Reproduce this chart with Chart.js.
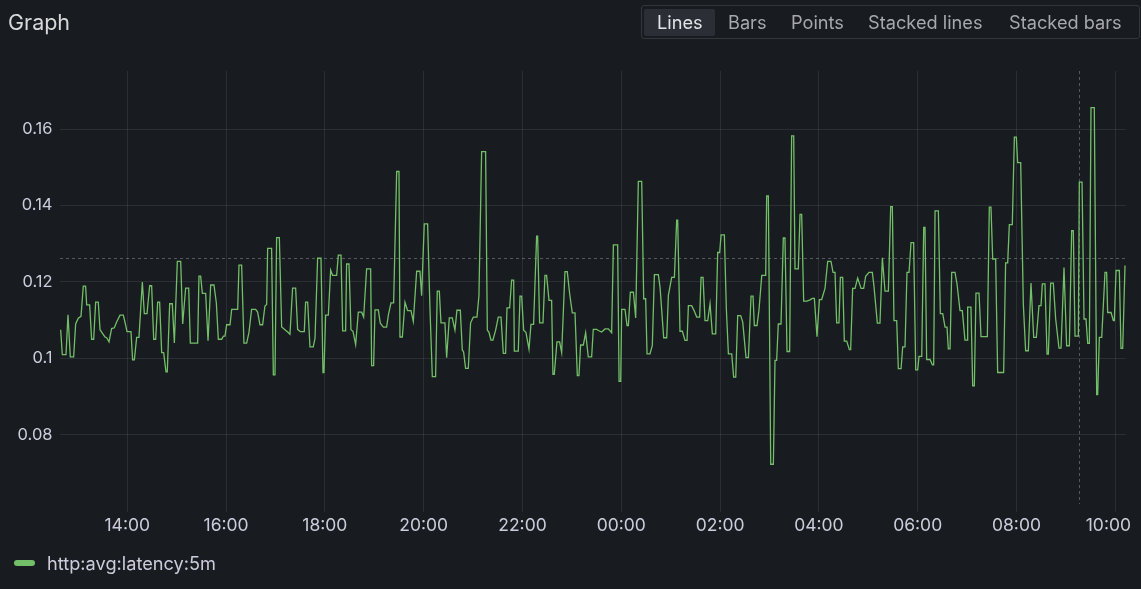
<!DOCTYPE html>
<html><head><meta charset="utf-8">
<script src="https://cdn.jsdelivr.net/npm/chart.js@4.4.0/dist/chart.umd.min.js"></script>
<style>
html,body{margin:0;padding:0;background:#181b1f;width:1141px;height:589px;overflow:hidden;font-family:Inter,"Noto Sans",sans-serif;}
#wrap{position:relative;width:1141px;height:589px;}
#c{position:absolute;left:0;top:0;}
.title{position:absolute;left:8px;top:9px;font-size:21.5px;line-height:26px;color:#d8d9da;}
.group{position:absolute;left:640.5px;top:5px;width:499px;height:34px;border:1px solid #33363c;border-radius:3px;box-sizing:border-box;}
.active{position:absolute;left:644px;top:9px;width:71px;height:27px;background:#2b2e34;border-radius:2px;}
.btn{position:absolute;top:9px;height:27px;line-height:27px;font-size:18.2px;color:#a7a8b0;white-space:nowrap;}
.btn.on{color:#e3e4e8;}
.lg-bar{position:absolute;left:14px;top:560px;width:21px;height:6px;border-radius:3px;background:#73bf69;}
.lg-txt{position:absolute;left:47px;top:551px;height:24px;line-height:24px;font-size:18.2px;color:#ccccdc;white-space:nowrap;}
</style></head>
<body><div id="wrap">
<canvas id="c" width="1141" height="589"></canvas>
<div class="title">Graph</div>
<div class="group"></div>
<div class="active"></div>
<div id="btns"></div>
<div class="lg-bar"></div>
<div class="lg-txt" id="lg"></div>
</div>
<script>
// ---- data ----
const seriesName = 'http:avg:latency:5m';
const viewButtons = ['Lines','Bars','Points','Stacked lines','Stacked bars'];
// minutes since 00:00 of the first day
const times = [
759.1,761.1,765.6,768.0,770.8,774.9,777.3,780.5,783.8,786.6,789.4,790.7,794.3,796.7,799.2,801.6,804.8,806.9,810.1,812.9,815.0,817.8,821.0,824.3,827.1,831.2,835.2,837.2,839.7,844.5,846.5,848.6,851.4,854.2,858.3,860.7,864.0,867.2,869.6,872.1,874.5,876.9,879.3,881.8,884.2,887.0,888.6,891.5,894.7,897.2,900.8,904.9,907.3,910.9,914.6,916.6,925.5,927.1,929.1,931.2,935.2,938.1,941.3,945.3,948.2,950.6,954.7,956.7,958.7,960.7,964.8,966.8,974.1,
975.7,978.9,981.7,985.0,987.8,991.0,995.9,998.3,1001.2,1004.4,1007.2,1009.3,1010.5,1015.3,1017.4,1019.4,1021.4,1024.7,1027.5,1031.5,1034.8,1037.6,1040.8,1044.5,1046.9,1050.2,1055.0,1056.6,1059.1,1061.9,1065.9,1068.0,1071.2,1075.3,1077.7,1078.9,1080.9,1084.2,1087.0,1089.4,1094.3,1096.3,1099.6,1101.6,1105.2,1106.4,1109.3,1111.7,1114.1,1117.4,1120.6,1124.7,1127.1,1130.7,1135.6,1136.8,1139.2,1140.9,1144.9,1147.3,1151.0,1155.0,1157.1,1160.3,1163.5,1167.2,1170.0,1171.2,1174.1,1177.3,1180.5,1184.6,1187.4,1191.5,1195.5,
1197.5,1200.7,1204.8,1207.6,1210.5,1214.5,1216.5,1219.0,1221.0,1225.8,1227.9,1231.1,1234.7,1238.0,1240.4,1244.5,1246.9,1248.5,1250.9,1254.2,1257.0,1260.3,1264.7,1267.1,1270.4,1275.2,1277.3,1279.3,1281.7,1284.1,1287.4,1290.6,1293.9,1296.7,1299.5,1301.2,1304.4,1306.8,1309.3,1310.1,1314.9,1317.0,1319.0,1321.4,1324.2,1327.9,1330.3,1333.5,1337.2,1338.4,1340.8,1344.9,1347.3,1349.3,1352.2,1355.4,1357.0,1358.6,1361.9,1365.1,1367.6,1371.6,1374.4,1377.3,1380.5,1383.8,1386.6,1388.6,1390.6,1393.9,1396.7,1399.9,1404.0,1406.0,1410.1,
1412.1,1416.2,1420.2,1424.3,1428.3,1430.4,1435.6,1437.3,1439.3,1440.5,1444.5,1447.0,1448.6,1451.0,1454.7,1457.5,1460.7,1464.8,1467.2,1469.6,1471.3,1474.9,1477.7,1480.2,1485.0,1487.1,1491.5,1495.2,1497.2,1501.2,1504.5,1507.3,1508.5,1511.3,1514.2,1517.4,1519.9,1521.5,1525.5,1528.4,1531.6,1535.2,1536.9,1539.3,1541.7,1545.0,1547.8,1550.6,1554.7,1557.1,1559.5,1561.2,1565.2,1567.6,1570.1,1574.1,1576.5,1579.0,1581.4,1585.0,1587.5,1591.5,1594.4,1597.6,1600.0,1601.6,1604.9,1607.3,1610.6,1615.4,1616.6,1618.6,1621.5,1624.7,1626.7,1628.7,1630.7,1634.0,
1636.8,1638.8,1641.3,1644.5,1646.9,1649.4,1651.0,1655.0,1657.1,1659.1,1661.5,1665.6,1669.2,1672.0,1674.5,1677.7,1680.6,1683.4,1687.4,1690.7,1694.7,1697.2,1699.6,1701.6,1704.4,1706.1,1708.9,1710.9,1713.8,1717.0,1718.6,1721.0,1723.9,1727.1,1731.2,1734.4,1736.8,1740.9,1744.9,1746.9,1751.0,1754.2,1757.1,1760.3,1764.4,1767.2,1769.2,1771.2,1774.5,1776.5,1779.8,1781.8,1784.6,1787.0,1789.5,1791.9,1795.1,1797.6,1800.0,1801.6,1804.9,1807.3,1808.9,1810.9,1815.0,1817.8,1819.4,1821.1,1825.1,1827.5,1830.4,1833.2,1835.6,1837.2,1839.3,1841.3,1845.3,1847.8,
1851.4,1854.2,1857.4,1859.9,1860.7,1864.7,1866.8,1868.8,1870.8,1874.5,1876.9,1884.6,1887.0,1889.0,1891.1,1894.7,1897.1,1904.4,1906.8,1909.3,1911.3,1914.9,1917.4,1919.8,1921.4,1925.1,1928.3,1931.1,1934.4,1937.6,1940.9,1944.1,1947.3,1949.8,1951.4,1954.6,1957.1,1958.7,1961.5,1964.7,1967.6,1971.6,1974.1,1977.7,1980.9,1984.2,1987.0,1989.0,1991.1,1995.1,1996.3,1999.6,2002.0,2004.4,2006.5,2008.5,2010.5,2014.5,2017.4,2018.6,2020.6,2023.5,2027.5,2029.5,2030.7,2034.8,2037.6,2038.8,2040.9,2044.9,2046.9,2049.0,2051.8
];
const values = [
0.1075,0.101,0.101,0.1114,0.1004,0.1004,0.109,0.1105,0.111,0.1189,0.1189,0.114,0.114,0.105,0.105,0.1147,0.1147,0.1075,0.1065,0.1056,0.1054,0.1043,0.1078,0.108,0.1095,0.1113,0.1113,0.1095,0.107,0.107,0.0996,0.0996,0.1055,0.1055,0.120,0.1117,0.1117,0.119,0.119,0.105,0.105,0.1147,0.1147,0.1015,0.1015,0.0965,0.0965,0.1143,0.1143,0.104,0.1254,0.1254,0.109,0.1184,0.1184,0.104,0.104,0.1215,0.1215,0.117,0.117,0.1046,0.1192,0.1192,0.1145,0.105,0.105,0.1058,0.1058,0.1088,0.1088,0.1128,0.1128,
0.1244,0.1244,0.104,0.104,0.1068,0.1128,0.1128,0.1121,0.1088,0.1088,0.1137,0.1141,0.1288,0.1288,0.0957,0.0957,0.1316,0.1316,0.1082,0.1075,0.1069,0.1063,0.1184,0.1184,0.1076,0.107,0.107,0.1147,0.1147,0.103,0.103,0.1052,0.1262,0.1262,0.0963,0.0963,0.1113,0.1113,0.1231,0.1217,0.1217,0.127,0.127,0.1072,0.1072,0.1247,0.1247,0.1075,0.1071,0.1036,0.1121,0.1121,0.1108,0.1234,0.1234,0.0981,0.0981,0.1127,0.1127,0.1092,0.1082,0.1082,0.1113,0.1145,0.1145,0.1489,0.1489,0.1056,0.1056,0.1147,0.1125,0.1125,0.1097,0.1228,0.1228,
0.1164,0.1352,0.1352,0.1134,0.0952,0.0952,0.1176,0.1176,0.1093,0.1093,0.1002,0.1106,0.1106,0.1074,0.1126,0.1126,0.1022,0.1017,0.0974,0.0974,0.1093,0.1108,0.1108,0.1163,0.1541,0.1541,0.1074,0.1068,0.1048,0.1048,0.1074,0.1108,0.1108,0.1013,0.1013,0.1132,0.1132,0.1205,0.1205,0.1019,0.1019,0.1163,0.1163,0.1074,0.1068,0.1024,0.1089,0.1089,0.132,0.132,0.1093,0.1093,0.1217,0.1217,0.1152,0.1152,0.0958,0.0958,0.1043,0.1043,0.1015,0.1227,0.1227,0.1169,0.1119,0.1119,0.0955,0.0955,0.1035,0.1035,0.1067,0.1004,0.1004,0.1076,0.1076,
0.1073,0.1069,0.1077,0.1077,0.1067,0.1297,0.1297,0.094,0.094,0.1128,0.1128,0.1086,0.1086,0.1173,0.1173,0.1106,0.1463,0.1463,0.1156,0.1156,0.1012,0.1012,0.1034,0.1219,0.1219,0.1186,0.1054,0.1054,0.1165,0.1212,0.1212,0.1362,0.1362,0.1071,0.1071,0.1047,0.1047,0.1138,0.1138,0.1125,0.1108,0.1108,0.1212,0.1212,0.1099,0.1099,0.1143,0.1064,0.1064,0.1277,0.1277,0.1323,0.1323,0.113,0.1012,0.1012,0.0951,0.0951,0.1112,0.1112,0.1095,0.1002,0.1002,0.1163,0.1163,0.1086,0.1086,0.1128,0.1217,0.1217,0.1425,0.1425,0.0723,0.0723,0.0995,0.0995,0.109,0.109,
0.1315,0.1315,0.1018,0.1018,0.1582,0.1582,0.1234,0.1234,0.1377,0.1377,0.115,0.115,0.1153,0.1157,0.1157,0.1057,0.1154,0.1154,0.1183,0.1254,0.1254,0.1225,0.1225,0.1093,0.1093,0.1212,0.1212,0.1045,0.1045,0.1023,0.1023,0.1183,0.1183,0.121,0.1183,0.1183,0.1215,0.1225,0.1225,0.1189,0.1092,0.1092,0.1263,0.1176,0.1176,0.1397,0.1397,0.1099,0.1099,0.0973,0.0973,0.103,0.103,0.1225,0.1225,0.1303,0.1303,0.097,0.097,0.1005,0.1005,0.1343,0.1343,0.0997,0.0997,0.0983,0.0983,0.1386,0.1386,0.1117,0.1117,0.1082,0.1082,0.1025,0.1025,0.1225,0.1225,0.1194,
0.1125,0.1125,0.1048,0.1048,0.1134,0.1134,0.0928,0.0928,0.1171,0.1171,0.1057,0.1057,0.1396,0.1396,0.126,0.126,0.0963,0.0963,0.125,0.125,0.135,0.135,0.1579,0.1579,0.1512,0.1512,0.1142,0.102,0.102,0.1197,0.1055,0.1055,0.1138,0.1138,0.1195,0.1195,0.1011,0.1011,0.1197,0.1197,0.1103,0.1027,0.1027,0.1238,0.1033,0.1033,0.1334,0.1334,0.1058,0.1058,0.1461,0.1461,0.1103,0.1103,0.1039,0.1039,0.1656,0.1656,0.0905,0.0905,0.1055,0.1055,0.1225,0.1225,0.112,0.112,0.1099,0.1099,0.123,0.123,0.1026,0.1026,0.1243
];
const yTicks = [0.08, 0.10, 0.12, 0.14, 0.16];
const yTickLabels = ['0.08', '0.1', '0.12', '0.14', '0.16'];
const xTicks = [840, 960, 1080, 1200, 1320, 1440, 1560, 1680, 1800, 1920, 2040];
const xTickLabels = ['14:00','16:00','18:00','20:00','22:00','00:00','02:00','04:00','06:00','08:00','10:00'];
const xRange = [758.3, 2053];
const yRange = [0.0598, 0.1752];
const crosshairTime = 1995.6;
const crosshairValue = 0.1262;

// ---- html bits ----
document.getElementById('lg').textContent = seriesName;
const btnLeft = [657, 728, 791, 868, 1009];
const btns = document.getElementById('btns');
viewButtons.forEach((b, i) => {
  const s = document.createElement('span');
  s.className = 'btn' + (i === 0 ? ' on' : '');
  s.style.left = btnLeft[i] + 'px';
  s.textContent = b;
  btns.appendChild(s);
});

const FONT = 'Inter, "Noto Sans", sans-serif';
const labelPlugin = {
  id: 'labels',
  afterDraw(chart) {
    const c = chart.ctx, a = chart.chartArea;
    const xs = chart.scales.x, ys = chart.scales.y;
    c.save();
    c.fillStyle = '#ccccdc';
    c.textBaseline = 'middle';
    c.font = '16.5px ' + FONT;
    c.textAlign = 'right';
    yTicks.forEach((v, i) => c.fillText(yTickLabels[i], 52.5, ys.getPixelForValue(v)));
    c.font = '17.5px ' + FONT;
    c.textAlign = 'center';
    xTicks.forEach((v, i) => {
      const w = c.measureText(xTickLabels[i]).width;
      let px = xs.getPixelForValue(v);
      px = Math.min(px, a.right + 5 - w / 2);
      c.fillText(xTickLabels[i], px, 526);
    });
    c.restore();
  },
  beforeDatasetsDraw(chart) {
    const c = chart.ctx, a = chart.chartArea;
    const px = chart.scales.x.getPixelForValue(crosshairTime);
    const py = chart.scales.y.getPixelForValue(crosshairValue);
    c.save();
    c.strokeStyle = 'rgba(204,204,220,0.35)';
    c.lineWidth = 1;
    c.setLineDash([3, 3]);
    c.beginPath();
    c.moveTo(Math.round(px) + 0.5, a.top); c.lineTo(Math.round(px) + 0.5, a.bottom - 8);
    c.moveTo(a.left, Math.round(py) + 0.5); c.lineTo(a.right, Math.round(py) + 0.5);
    c.stroke();
    c.restore();
  }
};

const gridColor = 'rgba(204,204,220,0.11)';
new Chart(document.getElementById('c'), {
  type: 'line',
  data: { datasets: [{
    label: seriesName,
    data: times.map((t, i) => ({ x: t, y: values[i] })),
    borderColor: '#73bf69', borderWidth: 1.3, pointRadius: 0, tension: 0, fill: false
  }]},
  options: {
    responsive: false, animation: false,
    layout: { padding: { left: 60, right: 15, top: 71, bottom: 77 } },
    plugins: { legend: { display: false }, tooltip: { enabled: false } },
    scales: {
      x: { type: 'linear', min: xRange[0], max: xRange[1],
        afterBuildTicks: s => { s.ticks = xTicks.map(v => ({ value: v })); },
        ticks: { display: false, padding: 0 }, grid: { color: gridColor, drawTicks: false }, border: { display: false } },
      y: { type: 'linear', min: yRange[0], max: yRange[1],
        afterBuildTicks: s => { s.ticks = yTicks.map(v => ({ value: v })); },
        ticks: { display: false, padding: 0 }, grid: { color: gridColor, drawTicks: false }, border: { display: false } }
    }
  },
  plugins: [labelPlugin]
});
</script>
</body></html>
